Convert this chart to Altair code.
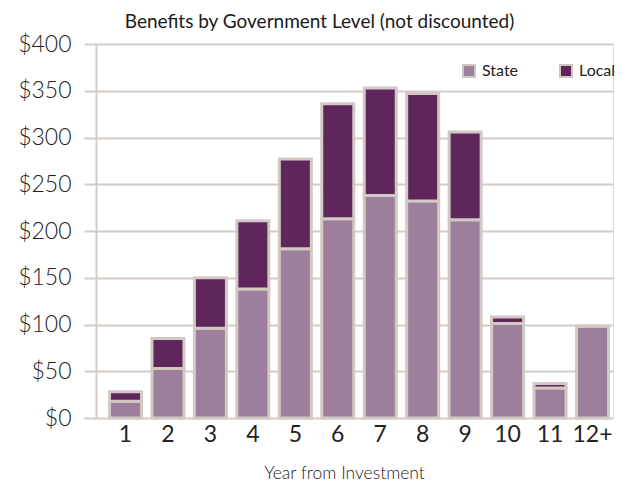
import altair as alt
import pandas as pd

# Benefits per year after the investment, split by government level
years = ["1", "2", "3", "4", "5", "6", "7", "8", "9", "10", "11", "12+"]
state = [18, 53, 96, 138, 181, 213, 238, 232, 212, 101, 32, 98]
local = [10, 32, 54, 73, 96, 123, 115, 115, 94, 7, 5, 0]

levels = ["State", "Local"]
colors = ["#9e7f9b", "#5f265c"]

rows = []
for i, y in enumerate(years):
    rows.append({"year": y, "level": "State", "value": state[i], "order": 0})
    rows.append({"year": y, "level": "Local", "value": local[i], "order": 1})
df = pd.DataFrame(rows)

font = "Lato"
grid_color = "#d4cbc6"

bars = (
    alt.Chart(df)
    .mark_bar(stroke="#d2c8c4", strokeWidth=3)
    .encode(
        x=alt.X(
            "year:N",
            sort=years,
            scale=alt.Scale(paddingInner=0.246, paddingOuter=0.212, align=0.75),
            axis=alt.Axis(
                title="Year from Investment",
                labelAngle=0,
                labelFont=font,
                labelFontSize=23,
                labelColor="#222222",
                labelPadding=5,
                ticks=False,
                domain=False,
                titleFont=font,
                titleFontSize=17.5,
                titleFontWeight=300,
                titleColor="#222222",
                titleX=248,
                titleY=60,
                titleBaseline="alphabetic",
            ),
        ),
        y=alt.Y(
            "value:Q",
            stack="zero",
            scale=alt.Scale(domain=[0, 400], nice=False),
            axis=alt.Axis(
                title=None,
                values=[0, 50, 100, 150, 200, 250, 300, 350, 400],
                labelExpr="'$' + datum.value",
                labelFont=font,
                labelFontSize=23,
                labelFontWeight=300,
                labelColor="#222222",
                labelPadding=13,
                tickSize=12,
                tickWidth=2,
                tickColor=grid_color,
                domainColor=grid_color,
                domainWidth=2,
                grid=True,
                gridColor=grid_color,
                gridWidth=2,
            ),
        ),
        color=alt.Color(
            "level:N",
            scale=alt.Scale(domain=levels, range=colors),
            legend=alt.Legend(
                title=None,
                orient="none",
                legendX=365,
                legendY=19,
                direction="horizontal",
                symbolType="square",
                symbolSize=144,
                symbolStrokeColor="#cfc5c1",
                symbolStrokeWidth=2,
                labelFont=font,
                labelFontSize=16,
                labelColor="#222222",
                labelOffset=5,
                columnPadding=37,
            ),
        ),
        order=alt.Order("order:Q", sort="ascending"),
    )
)

chart = (
    bars.properties(
        width=517,
        height=374,
        title=alt.TitleParams(
            "Benefits by Government Level (not discounted)",
            font=font,
            fontSize=19,
            fontWeight="normal",
            color="#1a1a1a",
            anchor="middle",
            dx=-35,
            dy=3,
        ),
        autosize=alt.AutoSizeParams(type="none"),
        padding={"left": 96, "top": 44, "right": 21, "bottom": 65},
    )
    .configure_view(stroke=None)
    .configure(background="white")
)

chart.save("out.html", embed_options={"renderer": "svg", "actions": False})
